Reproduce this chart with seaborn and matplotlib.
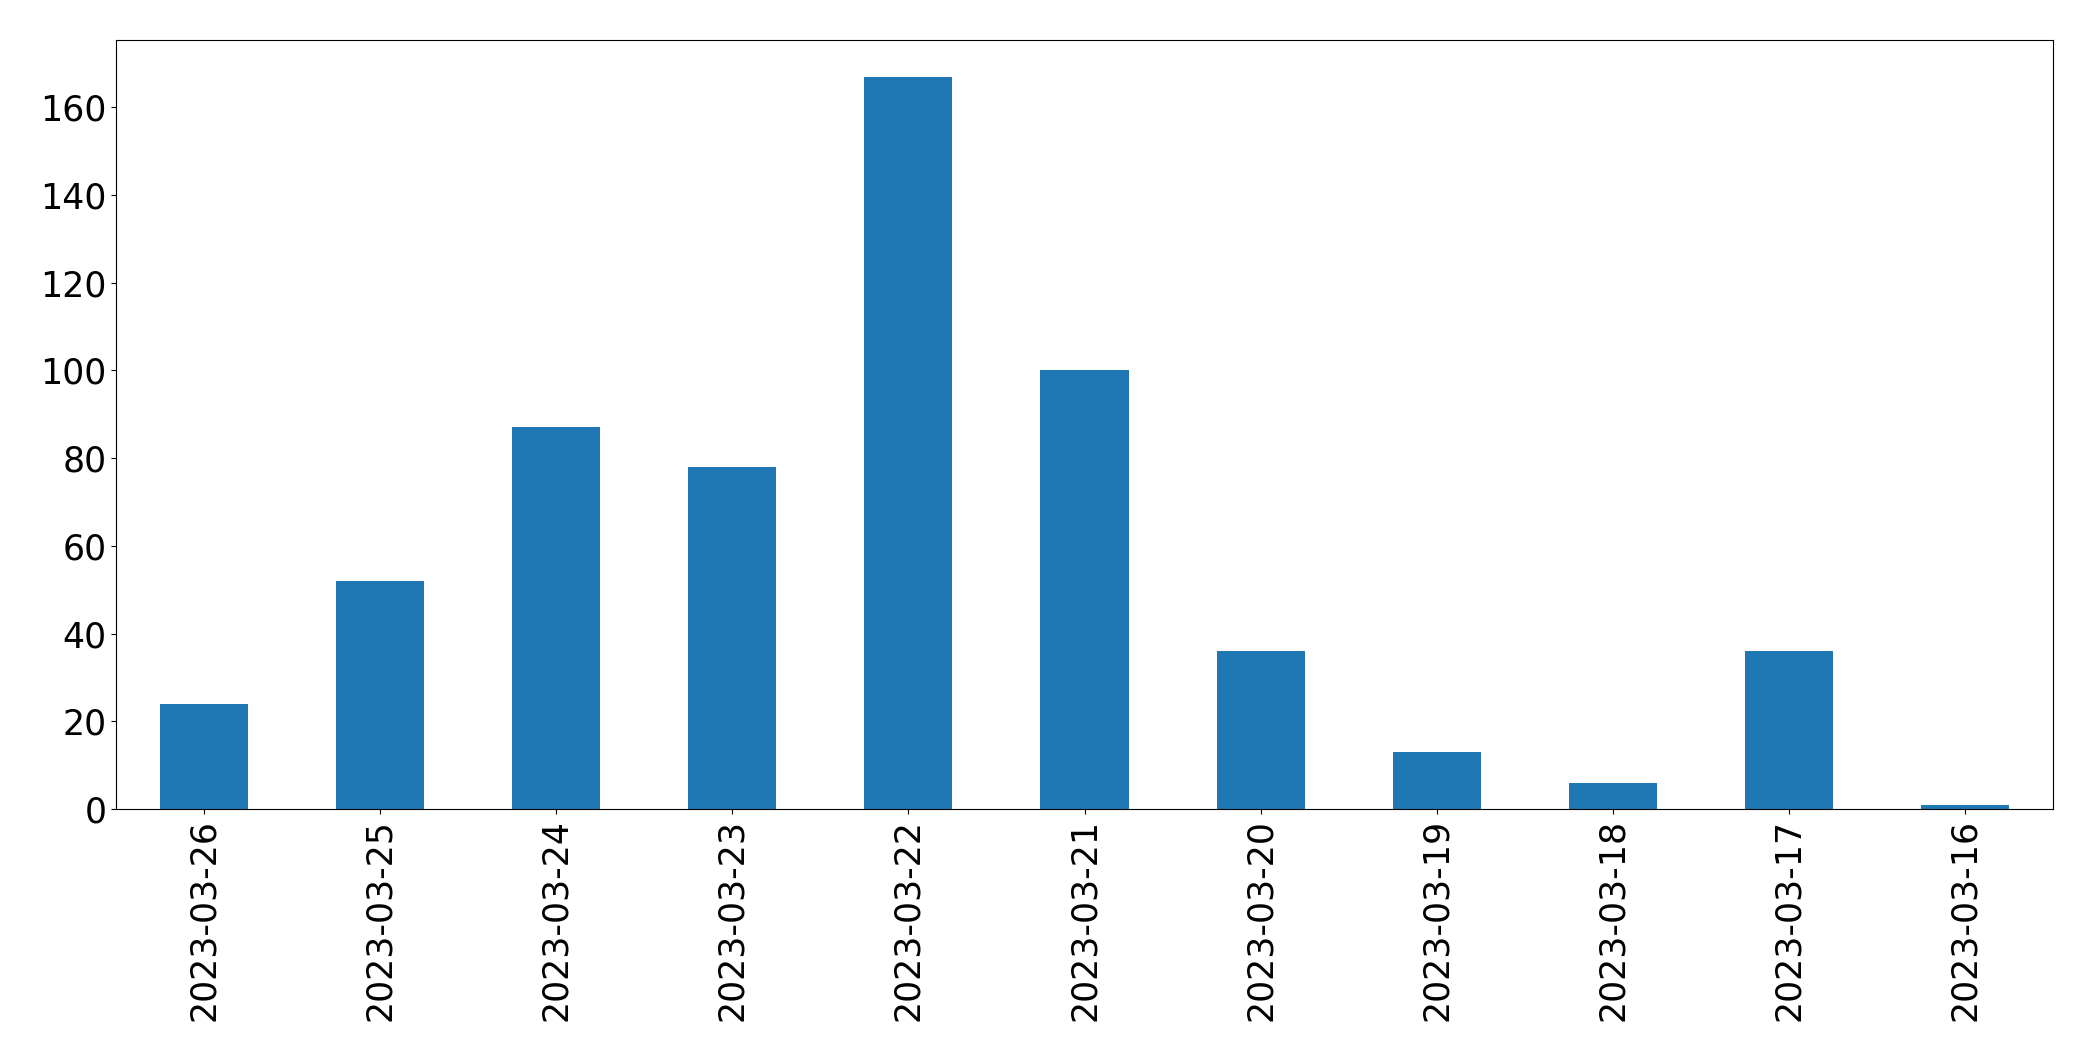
import matplotlib
matplotlib.use("Agg")
import matplotlib.pyplot as plt
import seaborn as sns
import pandas as pd

dates = ["2023-03-26", "2023-03-25", "2023-03-24", "2023-03-23", "2023-03-22",
         "2023-03-21", "2023-03-20", "2023-03-19", "2023-03-18", "2023-03-17",
         "2023-03-16"]
counts = [24, 52, 87, 78, 167, 100, 36, 13, 6, 36, 1]

df = pd.DataFrame({"date": dates, "count": counts})

fig = plt.figure(figsize=(20.93, 10.61), dpi=100)
ax = fig.add_axes([116 / 2093, 1 - 809 / 1061, (2053 - 116) / 2093, (809 - 40) / 1061])
sns.barplot(data=df, x="date", y="count", order=dates, color="#1f77b4",
            saturation=1, width=0.5, ax=ax)
ax.set_xlim(-0.5, len(dates) - 0.5)
ax.set_ylim(0, max(counts) * 1.05)
ax.set_xlabel("")
ax.set_ylabel("")
ax.tick_params(axis="both", labelsize=25)
ax.tick_params(axis="x", labelrotation=90)
for s in ax.spines.values():
    s.set_visible(True)
    s.set_color("black")
fig.savefig("out.png", dpi=100)
